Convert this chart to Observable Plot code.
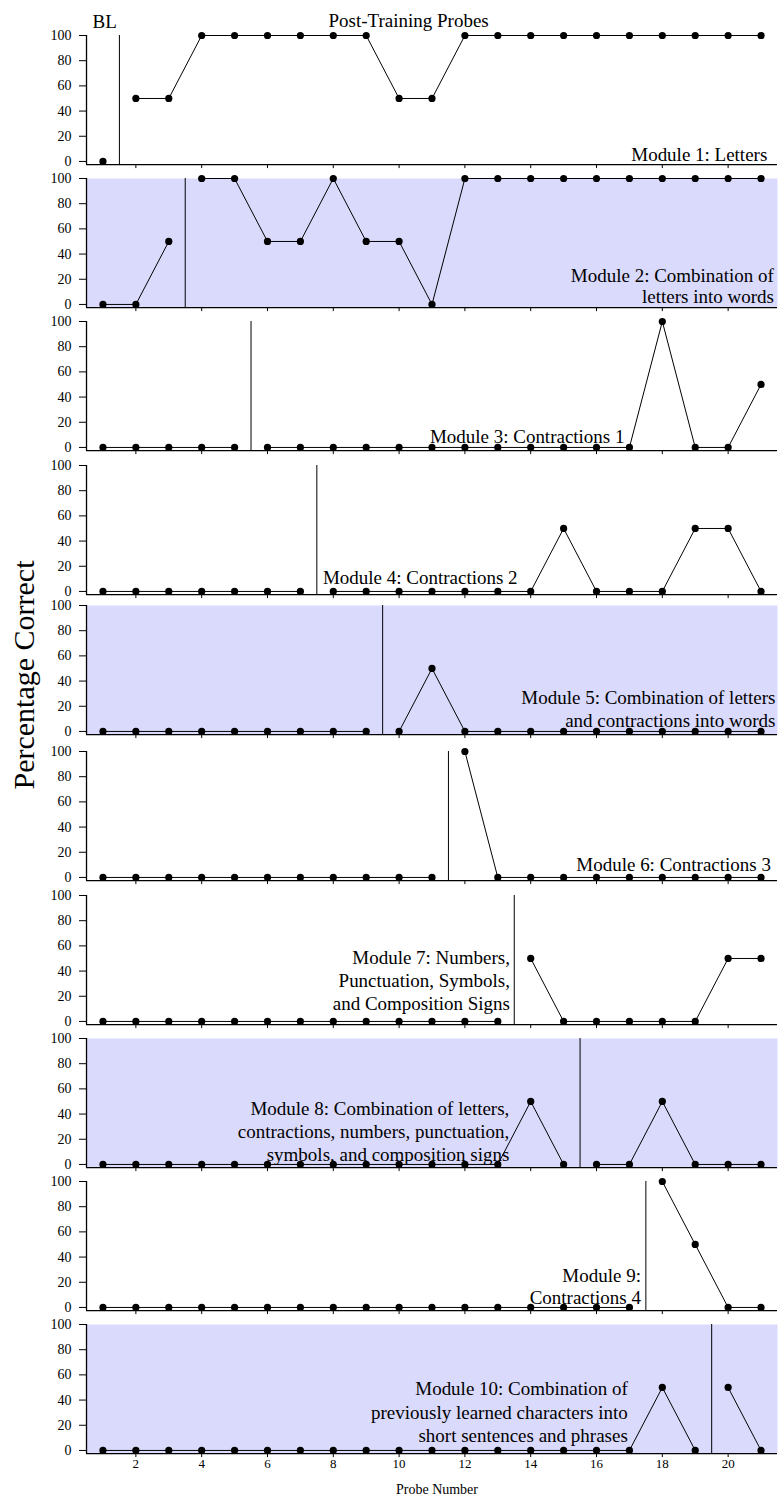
<!DOCTYPE html>
<html><head><meta charset="utf-8">
<script src="https://cdn.jsdelivr.net/npm/d3@7"></script>
<script src="https://cdn.jsdelivr.net/npm/@observablehq/plot@0.6"></script>
<style>
body{margin:0;background:#fff;}
#chart{position:relative;width:778px;height:1498px;font-family:"Liberation Serif","Times New Roman",serif;}
#chart svg{position:absolute;left:0;background:transparent;}
#ylab{position:absolute;left:24px;top:675px;transform:translate(-50%,-50%) rotate(-90deg);font-size:30px;white-space:nowrap;color:#000;}
</style></head><body><div id="chart"><div id="ylab">Percentage Correct</div></div>
<script>
// ---------- data ----------
const probes = [1,2,3,4,5,6,7,8,9,10,11,12,13,14,15,16,17,18,19,20,21];
const yTicks = [0,20,40,60,80,100];
const xTicks = [2,4,6,8,10,12,14,16,18,20];

const module1 = [0,50,50,100,100,100,100,100,100,50,50,100,100,100,100,100,100,100,100,100,100];
const module2 = [0,0,50,100,100,50,50,100,50,50,0,100,100,100,100,100,100,100,100,100,100];
const module3 = [0,0,0,0,0,0,0,0,0,0,0,0,0,0,0,0,0,100,0,0,50];
const module4 = [0,0,0,0,0,0,0,0,0,0,0,0,0,0,50,0,0,0,50,50,0];
const module5 = [0,0,0,0,0,0,0,0,0,0,50,0,0,0,0,0,0,0,0,0,0];
const module6 = [0,0,0,0,0,0,0,0,0,0,0,100,0,0,0,0,0,0,0,0,0];
const module7 = [0,0,0,0,0,0,0,0,0,0,0,0,0,50,0,0,0,0,0,50,50];
const module8 = [0,0,0,0,0,0,0,0,0,0,0,0,0,50,0,0,0,50,0,0,0];
const module9 = [0,0,0,0,0,0,0,0,0,0,0,0,0,0,0,0,0,100,50,0,0];
const module10 = [0,0,0,0,0,0,0,0,0,0,0,0,0,0,0,0,0,50,0,50,0];

const phaseChanges = [1.5,3.5,5.5,7.5,9.5,11.5,13.5,15.5,17.5,19.5];

const moduleLabels = [
  ["Module 1: Letters"],
  ["Module 2: Combination of","letters into words"],
  ["Module 3: Contractions 1"],
  ["Module 4: Contractions 2"],
  ["Module 5: Combination of letters","and contractions into words"],
  ["Module 6: Contractions 3"],
  ["Module 7: Numbers,","Punctuation, Symbols,","and Composition Signs"],
  ["Module 8: Combination of letters,","contractions, numbers, punctuation,","symbols, and composition signs"],
  ["Module 9:","Contractions 4"],
  ["Module 10: Combination of","previously learned characters into","short sentences and phrases"]
];
const phaseTitles = ["BL","Post-Training Probes"];

// ---------- layout ----------
const series = [module1,module2,module3,module4,module5,module6,module7,module8,module9,module10];
const shadedPanels = [1,4,7,9];
const labelPos = [ // [x of text end (data units), baseline offset px from y=0, line height]
  [21.19, 0, 1.14],[21.39,-1, 1.14],[16.85,-4.5, 1.2],[13.6,-7, 1.2],[21.44,-4.5, 1.22],
  [21.3,-6, 1.2],[13.37,-11, 1.22],[13.35,-3, 1.22],[17.35,-3, 1.2],[16.95,-8, 1.26]
];
const panelShift = [0,0,0,0,-3,0,0,0,0,0];
const Y100 = 34.7, STEP = 143.3, PH = 129.1;
const FONT = '"Liberation Serif","Times New Roman",serif';
const chart = document.getElementById("chart");

series.forEach((vals,k) => {
  const last = k === series.length - 1;
  const mt = k === 0 ? 35 : 10;
  const mb = last ? 48 : 7;
  const change = phaseChanges[k];
  const data = probes.map((x,i) => ({x, y: vals[i], phase: x < change ? "BL" : "Post"}));
  const [lx, ldy, lh] = labelPos[k];
  const marks = [
    shadedPanels.includes(k) ? Plot.frame({fill:"#dadafc", stroke:"none"}) : null,
    Plot.ruleX([change], {stroke:"#000", strokeWidth:1}),
    Plot.line(data, {x:"x", y:"y", z:"phase", stroke:"#000", strokeWidth:1}),
    Plot.dot(data, {x:"x", y:"y", r:3.6, fill:"#000", stroke:"none"}),
    Plot.axisY({ticks:yTicks, tickSize:7, tickPadding:8, label:null, stroke:"#000", strokeOpacity:1, fontSize:14}),
    Plot.axisX({ticks:xTicks, tickSize:4, tickPadding:1, label:null, stroke:"#000", strokeOpacity:1, fontSize:13,
                tickFormat: last ? (d => d) : (() => "")}),
    Plot.ruleY([-2.5], {stroke:"#000", strokeWidth:1.3}),
    Plot.ruleX([0.5], {stroke:"#000", strokeWidth:1.3}),
    Plot.text([moduleLabels[k].join("\n")], {x: lx, y: 0, dy: ldy, text: d => d, textAnchor:"end",
               lineAnchor:"bottom", fontSize:19, lineHeight:lh, fill:"#000"})
  ];
  if (k === 0) {
    marks.push(Plot.text([phaseTitles[0]], {x: 1.05, y: 100, dy: -7, text: d => d, lineAnchor:"bottom", fontSize:19, fill:"#000"}));
    marks.push(Plot.text([phaseTitles[1]], {x: 10.29, y: 100, dy: -8, text: d => d, lineAnchor:"bottom", fontSize:19, fill:"#000"}));
  }
  if (last) {
    marks.push(Plot.text(["Probe Number"], {frameAnchor:"bottom", dx: 5, dy: 40, text: d => d, lineAnchor:"bottom", fontSize:14, fill:"#000"}));
  }
  const plot = Plot.plot({
    width: 778, height: mt + PH + mb,
    marginTop: mt, marginBottom: mb, marginLeft: 86, marginRight: 1,
    x: {domain:[0.5,21.5]},
    y: {domain:[-2.5,100]},
    style: {fontFamily: FONT, fontSize: "13px", background: "transparent", color: "#000"},
    marks
  });
  plot.style.top = (Y100 + k*STEP + panelShift[k] - mt) + "px";
  chart.append(plot);
});
</script>
</body></html>
